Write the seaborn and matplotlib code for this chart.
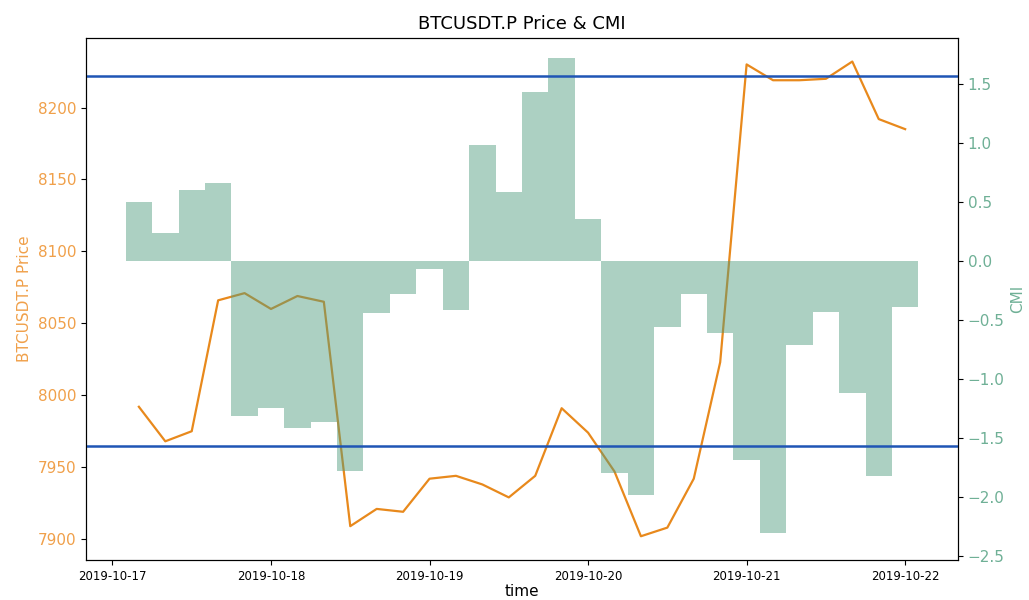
import numpy as np
import pandas as pd
import matplotlib
matplotlib.use("Agg")
import matplotlib.pyplot as plt
import matplotlib.dates as mdates
import seaborn as sns

# ---- data ----
start_time = "2019-10-17 04:00"
price = [7992, 7968, 7975, 8066, 8071, 8060, 8069, 8065, 7909, 7921,
         7919, 7942, 7944, 7938, 7929, 7944, 7991, 7974, 7947, 7902,
         7908, 7942, 8023, 8230, 8219, 8219, 8220, 8232, 8192, 8185]
cmi = [0.50, 0.24, 0.60, 0.66, -1.31, -1.24, -1.41, -1.36, -1.78, -0.44,
       -0.28, -0.07, -0.41, 0.98, 0.59, 1.43, 1.72, 0.36, -1.79, -1.98,
       -0.56, -0.28, -0.61, -1.68, -2.30, -0.71, -0.43, -1.12, -1.82, -0.39]
thresholds = [1.565, -1.565]

ORANGE = "#e8891c"
ORANGE_TXT = "#f0a04a"
GREEN = "#4f9c7e"
GREEN_TXT = "#6fb096"
BLUE = "#1f55b5"

times = pd.date_range(start_time, periods=len(price), freq="4h")
df = pd.DataFrame({"time": times, "price": price, "cmi": cmi})

fig, ax = plt.subplots(figsize=(10.29, 6), dpi=100)
fig.subplots_adjust(left=0.0836, right=0.931, top=0.937, bottom=0.0667)

sns.lineplot(data=df, x="time", y="price", ax=ax, color=ORANGE, linewidth=1.6)
ax.set_ylabel("BTCUSDT.P Price", color=ORANGE_TXT, fontsize=11)
ax.set_xlabel("time", fontsize=11, labelpad=1)
ax.tick_params(axis="y", labelcolor=ORANGE_TXT, labelsize=11)
ax.tick_params(axis="x", labelsize=8.5)

ax2 = ax.twinx()
ax2.bar(mdates.date2num(df["time"]), df["cmi"], width=4 / 24,
        color=GREEN, alpha=0.47)
for t in thresholds:
    ax2.axhline(t, color=BLUE, linewidth=1.8)
ax2.set_ylim(min(cmi) * 1.1, max(cmi) * 1.1)
ax2.set_ylabel("CMI", color=GREEN_TXT, fontsize=11)
ax2.tick_params(axis="y", labelcolor=GREEN_TXT, labelsize=11)

ax.xaxis.set_major_locator(mdates.DayLocator())
ax.xaxis.set_major_formatter(mdates.DateFormatter("%Y-%m-%d"))

ax.set_title("BTCUSDT.P Price & CMI", fontsize=13)

fig.savefig("out.png", dpi=100)
